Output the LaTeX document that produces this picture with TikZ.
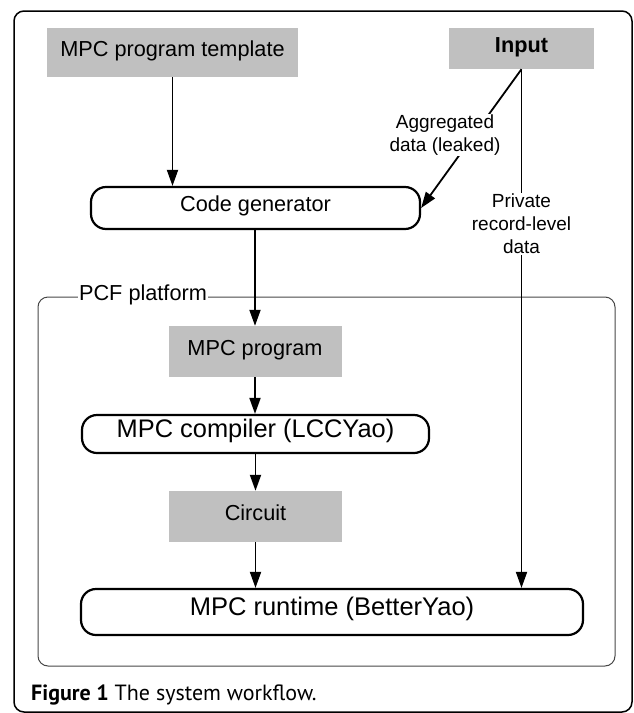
\documentclass[tikz,border=0pt]{standalone}
\usepackage{fontspec}
\setmainfont{Liberation Sans}
\newfontfamily\capfont{PT Sans}
\usetikzlibrary{arrows.meta}
\definecolor{boxgray}{RGB}{192,192,192}
\definecolor{pcfgray}{RGB}{70,70,70}
\begin{document}
\begin{tikzpicture}[x=1pt,y=-1pt,
  arr/.style={line width=1.8pt, -{Triangle[length=16pt,width=11pt]}},
  graybox/.style={fill=boxgray, inner sep=0pt, text height=0.716em, text depth=0pt, font=\fontsize{21.7}{26}\selectfont},
  roundbox/.style={draw, line width=2.2pt, rounded corners=15pt, inner sep=0pt, text height=0.716em, text depth=0pt},
  lbl/.style={fill=white, inner sep=1pt, align=center, font=\fontsize{19}{23}\selectfont},
  frame/.style={line width=1.5pt, rounded corners=10pt},
  pcf/.style={draw=pcfgray, line width=1pt, rounded corners=10pt}]
\useasboundingbox (0,0) rectangle (633,713);
\draw[frame] (14,11) rectangle (632,712);
\draw[pcf] (38,297) rectangle (615,666);
\node[fill=white, inner sep=1pt, font=\fontsize{21.7}{26}\selectfont, text height=0.716em, text depth=0pt] (pcflbl) at (143,297) {PCF platform};

\node[graybox, minimum width=251pt, minimum height=49pt] (template) at (172.5,52.5) {MPC program template};
\node[graybox, minimum width=145pt, minimum height=41pt, font=\fontsize{21.7}{26}\selectfont\bfseries] (input) at (521.5,48.5) {Input};
\node[roundbox, minimum width=329pt, minimum height=42pt, font=\fontsize{21.7}{26}\selectfont] (codegen) at (255.5,208) {Code generator};
\node[graybox, minimum width=173pt, minimum height=51pt] (mpcprog) at (255,351.5) {MPC program};
\node[roundbox, minimum width=347pt, minimum height=38pt, font=\fontsize{25.4}{30}\selectfont] (compiler) at (255.5,434) {MPC compiler (LCCYao)};
\node[graybox, minimum width=173pt, minimum height=51pt] (circuit) at (255.5,516.5) {Circuit};
\node[roundbox, minimum width=502pt, minimum height=46pt, font=\fontsize{25.5}{30}\selectfont] (runtime) at (332,612) {MPC runtime (BetterYao)};

\draw[arr] (template.south) -- (template.south |- codegen.north);
\draw[arr] (input.south) -- (codegen.east);
\draw[arr] (input.south) -- (input.south |- runtime.north);
\draw[arr] (codegen.south -| mpcprog.north) -- (mpcprog.north);
\draw[arr] (mpcprog.south) -- (mpcprog.south |- compiler.north);
\draw[arr] (compiler.south -| circuit.north) -- (circuit.north);
\draw[arr] (circuit.south) -- (circuit.south |- runtime.north);

\node[lbl] (agg) at (445,135) {Aggregated\\data (leaked)};
\node[lbl] (priv) at (521.5,224) {Private\\record-level\\data};

\node[anchor=base west, inner sep=0pt, font=\capfont\fontsize{22}{26}\selectfont] (caption) at (31,700) {\textbf{Figure 1} The system workflow.};
\end{tikzpicture}
\end{document}
